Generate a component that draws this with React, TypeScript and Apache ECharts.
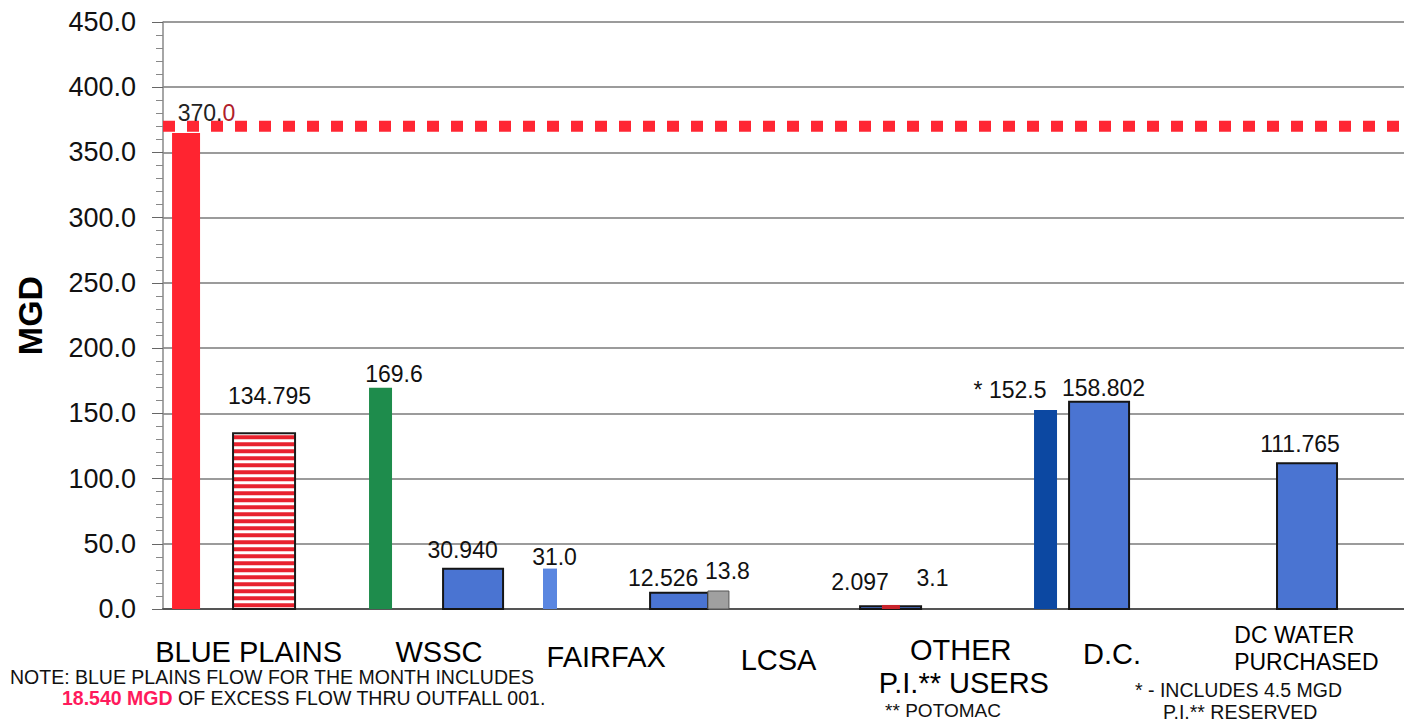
import React, { useEffect, useRef } from "react";
import * as echarts from "echarts";

// ---------- data ----------
const CATEGORIES = [
  "BLUE PLAINS",
  "WSSC",
  "FAIRFAX",
  "LCSA",
  "OTHER\nP.I.** USERS",
  "D.C.",
  "DC WATER\nPURCHASED",
];
const BAR_VALUES = [365, 134.795, 169.6, 30.94, 31.0, 12.526, 13.8, 2.097, 3.1, 152.5, 158.802, 111.765];
const BAR_DECIMALS = [1, 3, 1, 3, 1, 3, 1, 3, 1, 1, 3, 3];
const BAR_PREFIX = ["", "", "", "", "", "", "", "", "", "* ", "", ""];
const BAR_SHOW_LABEL = [false, true, true, true, true, true, true, true, true, true, true, true];
const CAPACITY = 370;
const Y_MIN = 0;
const Y_MAX = 450;
const Y_STEP = 50;

// ---------- layout / style ----------
const BAR_POS = [0.13, 0.57, 1.227, 1.749, 2.183, 2.911, 3.133, 4.104, 4.106, 4.978, 5.28, 6.453];
const BAR_WIDTH = [28, 62, 23, 60, 14, 58, 21, 61, 18, 23, 60, 60];
const BAR_KIND = ["solid", "striped", "solid", "framed", "solid", "framed", "grey", "framed", "solid", "solid", "framed", "framed"];
const BAR_COLOR = ["#ff2430", "#e8222e", "#1e8c4c", "#4a74d2", "#5a86e0", "#4a74d2", "#a0a0a0", "#4a74d2", "#c8242c", "#0c48a2", "#4a74d2", "#4a74d2"];
const LABEL_OFFSET = [
  [0, 0], [5.5, -37], [13.5, -14], [-10.5, -19], [4.5, -12], [-16, -15],
  [9, -19.5], [-30.5, -24.5], [41.5, -27], [-35.5, -20], [4.5, -14], [-7, -19],
];
// per category label lines: [fontSize, lineHeight, horizontal shift]
const CAT_LABEL_LAYOUT = [
  [[29, 62, -3]],
  [[29, 62, 10]],
  [[29, 72, 0]],
  [[29, 78, -5]],
  [[29, 58, 0], [29, 8, 3]],
  [[29, 66, -26]],
  [[23, 27, -21], [23, 27, -9]],
];

const FONT = "'Liberation Sans', Arial, sans-serif";

function buildRich() {
  const rich: any = {};
  CAT_LABEL_LAYOUT.forEach((lines, i) => {
    lines.forEach(([size, lh, shift], j) => {
      rich[`c${i}l${j}`] = {
        fontSize: size,
        lineHeight: lh,
        fontFamily: FONT,
        color: "#000",
        padding: shift >= 0 ? [0, 0, 0, shift * 2] : [0, -shift * 2, 0, 0],
      };
    });
  });
  return rich;
}

export default function App() {
  const ref = useRef<HTMLDivElement>(null);

  useEffect(() => {
    if (!ref.current) return;
    const chart = echarts.init(ref.current, null, { renderer: "svg" });
    const capStr = CAPACITY.toFixed(1);

    const noteStyle = (extra: any) => ({
      fill: "#111",
      font: `19.5px ${FONT}`,
      verticalAlign: "middle",
      textVerticalAlign: "middle",
      ...extra,
    });

    const option: any = {
      animation: false,
      backgroundColor: "#fff",
      grid: { left: 163, right: 0, top: 22, bottom: 117, containLabel: false },
      xAxis: [
        {
          type: "category",
          data: CATEGORIES,
          boundaryGap: true,
          axisLine: { show: true, lineStyle: { color: "#555", width: 2 } },
          axisTick: { show: false },
          splitLine: { show: false },
          axisLabel: {
            interval: 0,
            margin: 12,
            color: "#000",
            fontFamily: FONT,
            formatter: (v: string, i: number) =>
              v.split("\n").map((line, j) => `{c${i}l${j}|${line}}`).join("\n"),
            rich: buildRich(),
          },
        },
        { type: "value", min: 0, max: CATEGORIES.length, show: false },
      ],
      yAxis: {
        type: "value",
        min: Y_MIN,
        max: Y_MAX,
        interval: Y_STEP,
        name: "MGD",
        nameLocation: "middle",
        nameGap: 116,
        nameTextStyle: { fontSize: 34, fontWeight: "bold", color: "#000", fontFamily: FONT },
        axisLine: { show: true, lineStyle: { color: "#888", width: 1.5 } },
        axisTick: { show: true, length: 11, lineStyle: { color: "#666" } },
        minorTick: { show: true, splitNumber: 5, length: 7, lineStyle: { color: "#888" } },
        axisLabel: {
          formatter: (v: number) => v.toFixed(1),
          fontSize: 27,
          color: "#111",
          margin: 27,
          fontFamily: FONT,
        },
        splitLine: { show: true, lineStyle: { color: "#7a7a7a", width: 1.5 } },
      },
      series: [
        {
          type: "custom",
          xAxisIndex: 1,
          yAxisIndex: 0,
          encode: { x: 0, y: 1 },
          data: BAR_VALUES.map((v, i) => [BAR_POS[i], v]),
          renderItem: (params: any, api: any) => {
            const i = params.dataIndex;
            const xv = api.value(0);
            const v = api.value(1);
            const p = api.coord([xv, v]);
            const b = api.coord([xv, 0]);
            const w = BAR_WIDTH[i];
            const x0 = p[0] - w / 2;
            const h = b[1] - p[1];
            const kind = BAR_KIND[i];
            const children: any[] = [];
            if (kind === "striped") {
              children.push({ type: "rect", shape: { x: x0, y: p[1], width: w, height: h }, style: { fill: "#fff" } });
              for (let y = p[1] + 2; y < b[1] - 1; y += 7) {
                children.push({
                  type: "rect",
                  shape: { x: x0, y, width: w, height: Math.min(4, b[1] - y) },
                  style: { fill: BAR_COLOR[i] },
                });
              }
              children.push({
                type: "rect",
                shape: { x: x0, y: p[1], width: w, height: h },
                style: { fill: "none", stroke: "#1a1a1a", lineWidth: 2 },
              });
            } else if (kind === "framed") {
              children.push({
                type: "rect",
                shape: { x: x0, y: p[1], width: w, height: h },
                style: { fill: BAR_COLOR[i], stroke: "#151515", lineWidth: 2 },
              });
            } else if (kind === "grey") {
              children.push({
                type: "rect",
                shape: { x: x0, y: p[1], width: w, height: h },
                style: { fill: BAR_COLOR[i], stroke: "#555", lineWidth: 1 },
              });
            } else {
              children.push({
                type: "rect",
                shape: { x: x0, y: p[1], width: w, height: h },
                style: { fill: BAR_COLOR[i] },
              });
            }
            if (BAR_SHOW_LABEL[i]) {
              const [dx, dy] = LABEL_OFFSET[i];
              children.push({
                type: "text",
                x: p[0] + dx,
                y: p[1] + dy,
                style: {
                  text: BAR_PREFIX[i] + Number(v).toFixed(BAR_DECIMALS[i]),
                  fill: "#111",
                  font: `23px ${FONT}`,
                  align: "center",
                  verticalAlign: "middle",
                  textAlign: "center",
                  textVerticalAlign: "middle",
                },
              });
            }
            return { type: "group", children };
          },
        },
        {
          type: "line",
          xAxisIndex: 1,
          yAxisIndex: 0,
          silent: true,
          symbol: "rect",
          symbolSize: 1,
          showSymbol: true,
          itemStyle: { color: "rgba(0,0,0,0)" },
          lineStyle: { color: "#ff2633", width: 11, type: [12, 12], cap: "butt" },
          label: { show: false },
          z: 3,
          data: [
            {
              value: [0, CAPACITY],
              label: {
                show: true,
                position: [44, -13],
                align: "center",
                verticalAlign: "middle",
                formatter: `{a|${capStr.slice(0, -1)}}{b|${capStr.slice(-1)}}`,
                rich: {
                  a: { fontSize: 23, color: "#222", fontFamily: FONT },
                  b: { fontSize: 23, color: "#b0202a", fontFamily: FONT },
                },
              },
            },
            [CATEGORIES.length, CAPACITY],
          ],
        },
      ],
      graphic: [
        {
          type: "text",
          x: 10,
          y: 677,
          style: noteStyle({ text: "NOTE: BLUE PLAINS FLOW FOR THE MONTH INCLUDES" }),
        },
        {
          type: "text",
          x: 62,
          y: 698,
          style: noteStyle({
            text: "{p|18.540 MGD} OF EXCESS FLOW THRU OUTFALL 001.",
            rich: { p: { fill: "#ff1a5c", font: `bold 19.5px ${FONT}` } },
          }),
        },
        {
          type: "text",
          x: 943,
          y: 710,
          style: noteStyle({ text: "** POTOMAC", font: `19px ${FONT}`, align: "center", textAlign: "center" }),
        },
        {
          type: "text",
          x: 1135,
          y: 690,
          style: noteStyle({ text: "* - INCLUDES 4.5 MGD" }),
        },
        {
          type: "text",
          x: 1163,
          y: 712,
          style: noteStyle({ text: "P.I.** RESERVED" }),
        },
      ],
    };

    chart.setOption(option);
    return () => chart.dispose();
  }, []);

  return (
    <div
      ref={ref}
      style={{ position: "fixed", left: 0, top: 0, width: 1404, height: 726, background: "#fff" }}
    />
  );
}
